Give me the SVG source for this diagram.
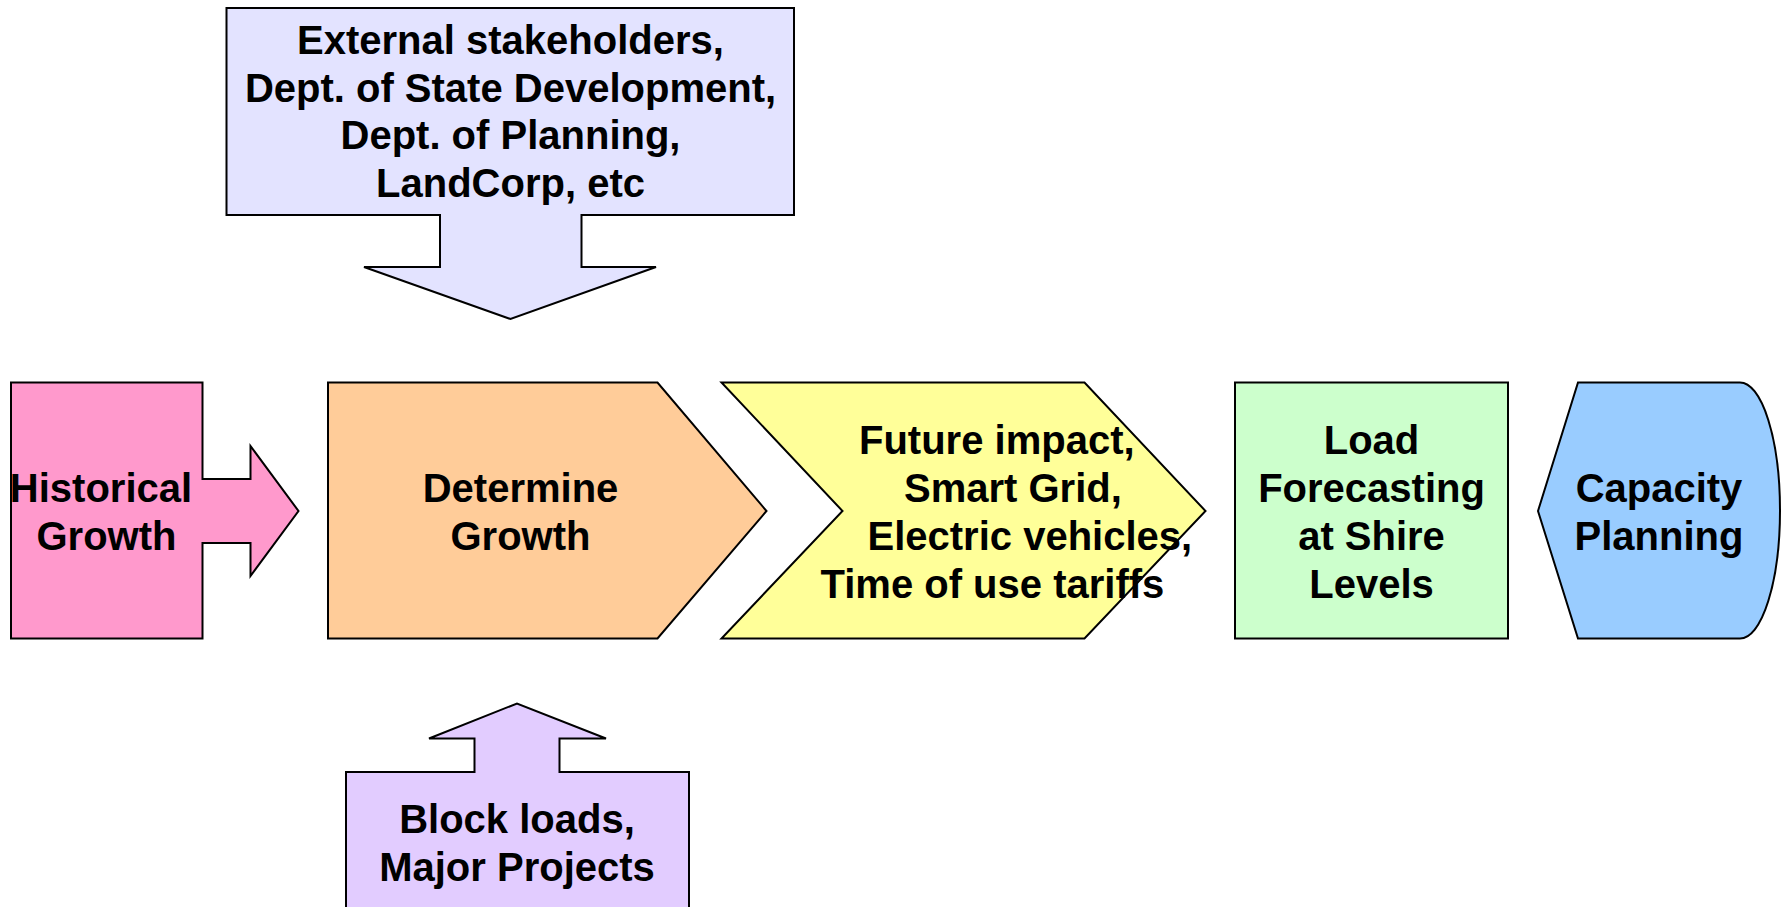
<svg xmlns="http://www.w3.org/2000/svg" width="1785" height="907" viewBox="0 0 1785 907">
<style>
.s{stroke:#000;stroke-width:2;stroke-linejoin:miter}
.t{font-family:"Liberation Sans",Arial,Helvetica,sans-serif;font-weight:bold;font-size:40px;fill:#000}
.m{text-anchor:middle}
</style>
<rect width="1785" height="907" fill="#fff"/>
<g id="connectors"></g>
<g id="stakeholders">
<path class="s" fill="#E3E3FF" d="M226.5,8 H794 V215 H581.5 V267 H656 L510.5,319 L364,267 H440 V215 H226.5 Z"/>
<text class="t m" x="510.5" y="54">External stakeholders,</text>
<text class="t m" x="510.5" y="101.5">Dept. of State Development,</text>
<text class="t m" x="510.5" y="149">Dept. of Planning,</text>
<text class="t m" x="510.5" y="196.5">LandCorp, etc</text>
</g>
<g id="historical">
<path class="s" fill="#FF99CC" d="M11,382.5 H202.5 V479 H250.5 V446 L298.5,511 L250.5,576 V543 H202.5 V638.5 H11 Z"/>
<text class="t m" x="101" y="502">Historical</text>
<text class="t m" x="106.5" y="549.5">Growth</text>
</g>
<g id="determine">
<path class="s" fill="#FFCC99" d="M328,382.5 H657.5 L766.5,511 L657.5,638.5 H328 Z"/>
<text class="t m" x="520.5" y="502">Determine</text>
<text class="t m" x="520.5" y="549.5">Growth</text>
</g>
<g id="future">
<path class="s" fill="#FFFF99" d="M721.5,382.5 H1084.5 L1205.5,511 L1084.5,638.5 H721.5 L842.5,511 Z"/>
<text class="t" x="859" y="454">Future impact,</text>
<text class="t" x="904" y="502">Smart Grid,</text>
<text class="t" x="867.5" y="550">Electric vehicles,</text>
<text class="t" x="820.5" y="597.5">Time of use tariffs</text>
</g>
<g id="forecasting">
<rect class="s" fill="#CCFFCC" x="1235" y="382.5" width="273" height="256"/>
<text class="t m" x="1371.5" y="454">Load</text>
<text class="t m" x="1371.5" y="502">Forecasting</text>
<text class="t m" x="1371.5" y="550">at Shire</text>
<text class="t m" x="1371.5" y="597.5">Levels</text>
</g>
<g id="capacity">
<path class="s" fill="#99CCFF" d="M1538,511 L1578,382.5 H1740 A40,128 0 0 1 1740,638.5 H1578 Z"/>
<text class="t m" x="1659" y="502">Capacity</text>
<text class="t m" x="1659" y="549.5">Planning</text>
</g>
<g id="blockloads">
<path class="s" fill="#E2CCFF" d="M346,930 V772 H474.5 V738.5 H429 L517,703.5 L606,738.5 H559.5 V772 H689 V930 Z"/>
<text class="t m" x="517" y="833">Block loads,</text>
<text class="t m" x="517" y="880.5">Major Projects</text>
</g>
</svg>
